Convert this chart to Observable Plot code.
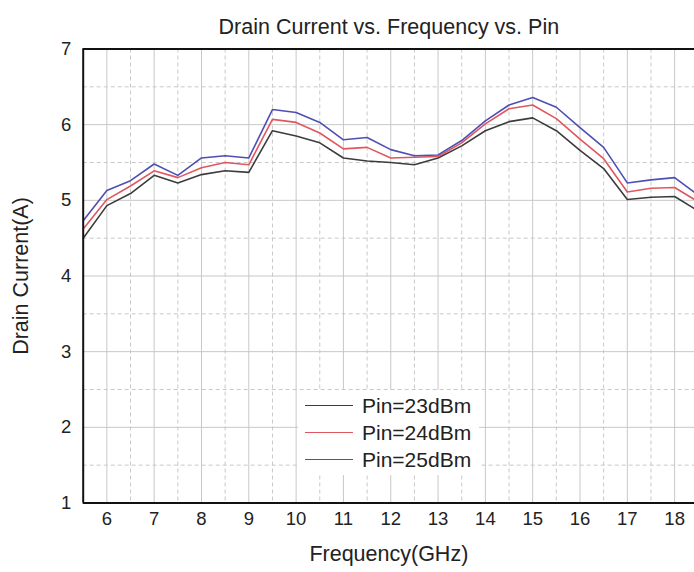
<!DOCTYPE html>
<html>
<head>
<meta charset="utf-8">
<script src="https://cdn.jsdelivr.net/npm/d3@7"></script>
<script src="https://cdn.jsdelivr.net/npm/@observablehq/plot@0.6"></script>
<style>
  html, body { margin: 0; padding: 0; background: #fff; }
  #wrap { position: relative; width: 694px; height: 572px; overflow: hidden; font-family: "Liberation Sans", Arial, sans-serif; }
  #legend { position: absolute; left: 298px; top: 390px; background: #fff; padding: 2px 8px 2px 7px; }
  .row { display: flex; align-items: center; height: 27px; font-size: 21px; color: #222; }
  .swatch { width: 48px; height: 0; border-top-width: 1.6px; border-top-style: solid; margin-right: 9px; }
</style>
</head>
<body>
<div id="wrap"></div>
<script>
const title = "Drain Current vs. Frequency vs. Pin";
const xLabel = "Frequency(GHz)";
const yLabel = "Drain Current(A)";
const seriesNames = ["Pin=23dBm", "Pin=24dBm", "Pin=25dBm"];
const seriesColors = ["#3c3c3c", "#e0575f", "#4f4fb3"];
const freq = [5.5, 6, 6.5, 7, 7.5, 8, 8.5, 9, 9.5, 10, 10.5, 11, 11.5, 12, 12.5, 13, 13.5, 14, 14.5, 15, 15.5, 16, 16.5, 17, 17.5, 18, 18.5];
const pin23 = [4.50, 4.93, 5.09, 5.33, 5.23, 5.34, 5.39, 5.37, 5.92, 5.85, 5.76, 5.56, 5.52, 5.50, 5.47, 5.56, 5.72, 5.92, 6.04, 6.09, 5.92, 5.66, 5.42, 5.01, 5.04, 5.05, 4.86];
const pin24 = [4.62, 5.01, 5.19, 5.39, 5.30, 5.43, 5.50, 5.47, 6.07, 6.03, 5.89, 5.68, 5.70, 5.56, 5.57, 5.58, 5.76, 6.01, 6.21, 6.26, 6.08, 5.81, 5.55, 5.11, 5.16, 5.17, 4.98];
const pin25 = [4.73, 5.13, 5.26, 5.48, 5.33, 5.56, 5.59, 5.56, 6.20, 6.16, 6.03, 5.80, 5.83, 5.67, 5.59, 5.60, 5.79, 6.05, 6.26, 6.36, 6.23, 5.96, 5.70, 5.23, 5.27, 5.30, 5.07];
const xTicks = [6, 7, 8, 9, 10, 11, 12, 13, 14, 15, 16, 17, 18];
const xHalfTicks = [5.5, 6.5, 7.5, 8.5, 9.5, 10.5, 11.5, 12.5, 13.5, 14.5, 15.5, 16.5, 17.5, 18.5];
const yTicks = [1, 2, 3, 4, 5, 6, 7];
const yHalfTicks = [1.5, 2.5, 3.5, 4.5, 5.5, 6.5];
const xDomain = [5.5, 18.42];
const yDomain = [1, 7];

const seriesValues = [pin23, pin24, pin25];
const data = seriesValues.flatMap((vals, s) => freq.map((f, i) => ({f, v: vals[i], s: seriesNames[s]})));

const chart = Plot.plot({
  width: 694,
  height: 572,
  marginTop: 48.5,
  marginBottom: 69.5,
  marginLeft: 82.7,
  marginRight: 0,
  style: {fontFamily: "Liberation Sans, Arial, sans-serif", fontSize: "18px", color: "#222", background: "#fff"},
  x: {domain: xDomain},
  y: {domain: yDomain},
  color: {domain: seriesNames, range: seriesColors},
  marks: [
    Plot.gridX(xTicks, {stroke: "#c8c8c8", strokeOpacity: 1, strokeWidth: 1}),
    Plot.gridX(xHalfTicks.filter(d => d < xDomain[1]), {stroke: "#c8c8c8", strokeOpacity: 1, strokeWidth: 1, strokeDasharray: "4,3"}),
    Plot.gridY(yTicks, {stroke: "#c8c8c8", strokeOpacity: 1, strokeWidth: 1}),
    Plot.gridY(yHalfTicks, {stroke: "#c8c8c8", strokeOpacity: 1, strokeWidth: 1, strokeDasharray: "4,3"}),
    Plot.line(data, {x: "f", y: "v", z: "s", stroke: "s", strokeWidth: 1.6, clip: true}),
    Plot.ruleY([yDomain[0], yDomain[1]], {stroke: "#111", strokeWidth: 2}),
    Plot.ruleX([xDomain[0]], {stroke: "#111", strokeWidth: 2}),
    Plot.axisX(xTicks, {tickSize: 0, tickPadding: 9, fontSize: 18.5, tickFormat: "d", label: null}),
    Plot.axisY(yTicks, {tickSize: 0, tickPadding: 12, fontSize: 18.5, tickFormat: "d", label: null}),
    Plot.text([title], {frameAnchor: "top", dy: -15, lineAnchor: "bottom", fontSize: 21.5, fill: "#222"}),
    Plot.text([xLabel], {frameAnchor: "bottom", dy: 51, lineAnchor: "middle", fontSize: 21.5, fill: "#222"}),
    Plot.text([yLabel], {frameAnchor: "left", dx: -62, rotate: -90, textAnchor: "middle", lineAnchor: "middle", fontSize: 21.5, fill: "#222"})
  ]
});

const wrap = document.getElementById("wrap");
wrap.appendChild(chart);

const legend = document.createElement("div");
legend.id = "legend";
seriesNames.forEach((name, i) => {
  const row = document.createElement("div");
  row.className = "row";
  const sw = document.createElement("span");
  sw.className = "swatch";
  sw.style.borderTopColor = seriesColors[i];
  const t = document.createElement("span");
  t.textContent = name;
  row.appendChild(sw);
  row.appendChild(t);
  legend.appendChild(row);
});
wrap.appendChild(legend);
</script>
</body>
</html>
